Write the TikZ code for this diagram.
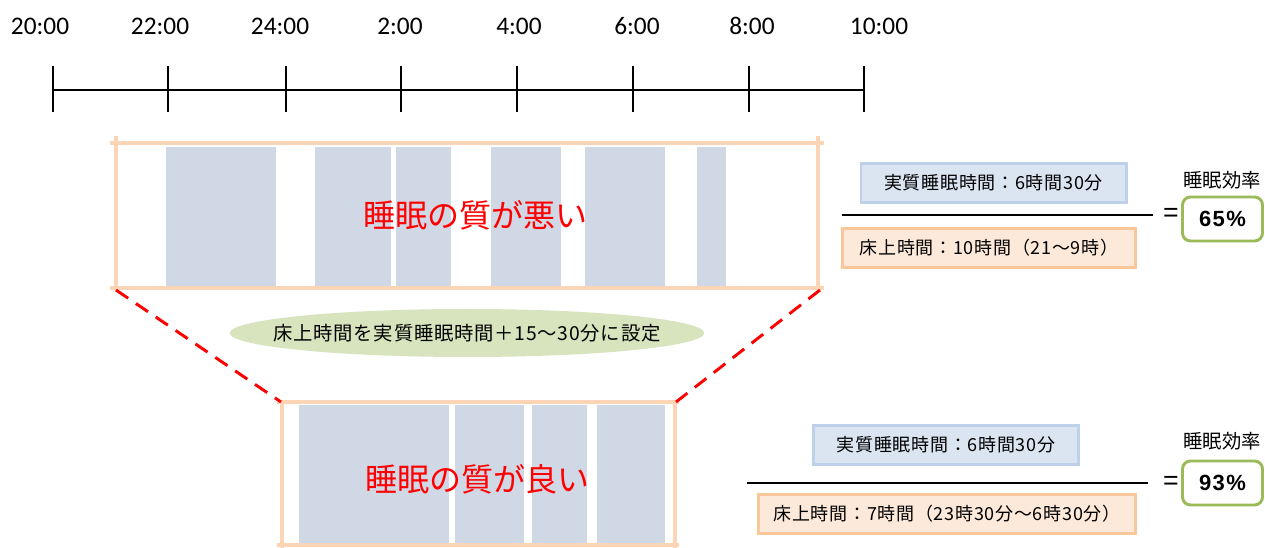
\documentclass[tikz,border=0pt]{standalone}
\usepackage{fontspec}
\setmainfont{Carlito}
\newfontfamily\jp{Noto Sans CJK JP}
\newfontfamily\jpsp[LetterSpace=4]{Noto Sans CJK JP}
\newfontfamily\arl[LetterSpace=6]{Liberation Sans}
\usetikzlibrary{shapes.geometric}
\definecolor{frameor}{HTML}{FBD5B5}
\definecolor{sleepbl}{HTML}{D0D8E6}
\definecolor{bluefill}{HTML}{DBE4F1}
\definecolor{blueline}{HTML}{BFD0EA}
\definecolor{orfill}{HTML}{FDE9D9}
\definecolor{orline}{HTML}{FAC79A}
\definecolor{grline}{HTML}{9BBB59}
\definecolor{ellfill}{HTML}{D7E4BD}
\tikzset{
  tick/.style={line width=1.6pt},
  frame/.style={draw=frameor,line width=3pt},
  sleep/.style={fill=sleepbl,draw=none},
  bigtxt/.style={text=red,font=\jp\fontsize{24}{28}\selectfont},
  bluebox/.style={draw=blueline,fill=bluefill,line width=2pt,minimum height=29pt,inner sep=0pt,font=\jpsp\fontsize{13.5}{15}\selectfont},
  orbox/.style={draw=orline,fill=orfill,line width=2pt,minimum height=29pt,inner sep=0pt,font=\jpsp\fontsize{13.5}{15}\selectfont},
  effbox/.style={draw=grline,line width=2.2pt,rounded corners=6pt,fill=white,minimum width=60pt,minimum height=33pt,font=\arl\bfseries\fontsize{16.5}{18}\selectfont},
  efflbl/.style={font=\jp\fontsize{14.5}{16}\selectfont},
  eqs/.style={font=\arl\fontsize{20}{22}\selectfont},
  fracline/.style={line width=1.5pt},
  zoomline/.style={red,line width=2.2pt,dash pattern=on 11pt off 7pt},
  timelbl/.style={font=\fontsize{19}{22}\selectfont}
}
\begin{document}
\begin{tikzpicture}[x=0.75pt,y=-0.75pt]
\useasboundingbox (0,0) rectangle (1265,548);
% timeline
\foreach \i/\x/\lx/\t in {0/53/40/20:00,1/168/160/22:00,2/286/280/24:00,3/401/400/2:00,4/517/519/4:00,5/633/637/6:00,6/749/752/8:00,7/864/879/10:00}{
  \coordinate (t\i) at (\x,90);
  \draw[tick] (\x,66) -- (\x,112);
  \node[timelbl] (l\i) at (\lx,26) {\t};
}
\draw[line width=2.2pt] (t0) -- (t7);
% top box blocks
\foreach \a/\b in {166/276,315/391,396/451,491/561,585/665,697/726}{
  \fill[sleep] (\a,147) rectangle (\b,287);
}
\draw[frame] (110,143) -- (824,143);
\draw[frame] (110,288) -- (824,288);
\draw[frame] (116,136) -- (116,290);
\draw[frame] (818,136) -- (818,290);
\coordinate (tl) at (116,290);
\coordinate (tr) at (820,290);
\node[bigtxt] (bad) at (475,215) {睡眠の質が悪い};
% bottom box blocks
\foreach \a/\b in {299/449,455/524,532/587,597/665}{
  \fill[sleep] (\a,405) rectangle (\b,545);
}
\draw[frame] (277,402) -- (679,402);
\draw[frame] (277,545) -- (679,545);
\draw[frame] (282,400) -- (282,548);
\draw[frame] (675,400) -- (675,548);
\coordinate (bl) at (281,402);
\coordinate (br) at (676,402);
\node[bigtxt] (good) at (477,479) {睡眠の質が良い};
% dashed zoom lines
\draw[zoomline] (tl) -- (bl);
\draw[zoomline] (tr) -- (br);
% ellipse
\fill[ellfill] (467,333) ellipse [x radius=178pt, y radius=18pt];
\node[font=\jpsp\fontsize{14.5}{16}\selectfont] (ell) at (467,333) {床上時間を実質睡眠時間＋15～30分に設定};
% top formula
\node[bluebox,minimum width=199pt] (b1) at (993.5,183) {実質睡眠時間：6時間30分};
\node[orbox,minimum width=220pt] (o1) at (989,248) {床上時間：10時間（21～9時）};
\coordinate (f1a) at (842,215);
\coordinate (f1b) at (1153,215);
\draw[fracline] (f1a) -- (f1b);
\node[eqs] (eq1) at (1171,215) {=};
\node[efflbl] (el1) at (1222,180) {睡眠効率};
\node[effbox] (e1) at (1222.5,219) {65\%};
% bottom formula
\node[bluebox,minimum width=199pt] (b2) at (946,445) {実質睡眠時間：6時間30分};
\node[orbox,minimum width=283pt] (o2) at (947,514) {床上時間：7時間（23時30分～6時30分）};
\coordinate (f2a) at (747,483);
\coordinate (f2b) at (1148,483);
\draw[fracline] (f2a) -- (f2b);
\node[eqs] (eq2) at (1171,483) {=};
\node[efflbl] (el2) at (1222,441) {睡眠効率};
\node[effbox] (e2) at (1222.5,483) {93\%};
\end{tikzpicture}
\end{document}
